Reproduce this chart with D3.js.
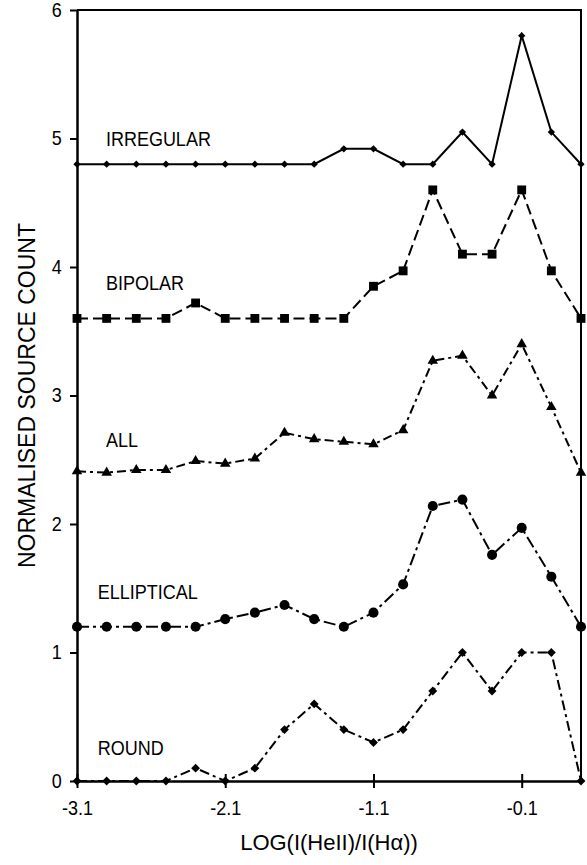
<!DOCTYPE html>
<html>
<head>
<meta charset="utf-8">
<script src="https://cdn.jsdelivr.net/npm/d3@7"></script>
<style>
  html, body { margin: 0; padding: 0; background: #fff; }
  svg text { font-family: Arial, "Liberation Sans", Helvetica, sans-serif; fill: #000; }
</style>
</head>
<body>
<div id="chart"></div>
<script>
// Bin centres on the x axis: LOG(I(HeII)/I(Ha))
const logRatio = [-3.1, -2.9, -2.7, -2.5, -2.3, -2.1, -1.9, -1.7, -1.5, -1.3, -1.1, -0.9, -0.7, -0.5, -0.3, -0.1, 0.1, 0.3];

// Normalised counts, each curve already offset vertically as in the figure
const irregular  = [4.8, 4.8, 4.8, 4.8, 4.8, 4.8, 4.8, 4.8, 4.8, 4.92, 4.92, 4.8, 4.8, 5.05, 4.8, 5.8, 5.05, 4.8];
const bipolar    = [3.6, 3.6, 3.6, 3.6, 3.72, 3.6, 3.6, 3.6, 3.6, 3.6, 3.85, 3.97, 4.6, 4.1, 4.1, 4.6, 3.97, 3.6];
const allPNe     = [2.41, 2.40, 2.42, 2.42, 2.49, 2.47, 2.51, 2.71, 2.66, 2.64, 2.62, 2.73, 3.27, 3.31, 3.0, 3.4, 2.91, 2.4];
const elliptical = [1.2, 1.2, 1.2, 1.2, 1.2, 1.26, 1.31, 1.37, 1.26, 1.2, 1.31, 1.53, 2.14, 2.19, 1.76, 1.97, 1.59, 1.2];
const round      = [0, 0, 0, 0, 0.1, 0, 0.1, 0.4, 0.6, 0.4, 0.3, 0.4, 0.7, 1.0, 0.7, 1.0, 1.0, 0];

const seriesNames = ["IRREGULAR", "BIPOLAR", "ALL", "ELLIPTICAL", "ROUND"];
// where each curve's name sits, in data units [x, y]
const labelAnchors = [[-2.905, 4.94], [-2.905, 3.82], [-2.905, 2.6], [-2.96, 1.42], [-2.96, 0.2]];

const xTicks = [-3.1, -2.1, -1.1, -0.1];
const yTicks = [0, 1, 2, 3, 4, 5, 6];

const width = 587, height = 865;
const margin = {top: 10, right: 6, bottom: 84, left: 77};
const w = width - margin.left - margin.right;
const h = height - margin.top - margin.bottom;

const svg = d3.select("#chart").append("svg")
    .attr("width", width)
    .attr("height", height);

const g = svg.append("g")
    .attr("transform", `translate(${margin.left},${margin.top})`);

const x = d3.scaleLinear().domain([-3.1, 0.3]).range([0, w]);
const y = d3.scaleLinear().domain([0, 6]).range([h, 0]);

// frame on top and right
g.append("path")
    .attr("d", `M0,0H${w}V${h}`)
    .attr("fill", "none")
    .attr("stroke", "#000")
    .attr("stroke-width", 2);

// series styles
const styles = [
    {data: irregular,  dash: null,         marker: d3.symbolDiamond2, size: 34},
    {data: bipolar,    dash: "11,5",       marker: d3.symbolSquare2,  size: 100},
    {data: allPNe,     dash: "9,4,3,4",    marker: d3.symbolTriangle, size: 48},
    {data: elliptical, dash: "12,4,3,4",   marker: d3.symbolCircle,   size: 80},
    {data: round,      dash: "10,4,3,4",   marker: d3.symbolDiamond2, size: 50}
];

const line = d3.line()
    .x((d, i) => x(logRatio[i]))
    .y(d => y(d));

styles.forEach((s, k) => {
    g.append("path")
        .datum(s.data)
        .attr("d", line)
        .attr("fill", "none")
        .attr("stroke", "#000")
        .attr("stroke-width", 2)
        .attr("stroke-dasharray", s.dash);

    const sym = d3.symbol().type(s.marker).size(s.size);
    g.selectAll(null)
        .data(s.data)
        .join("path")
        .attr("d", sym)
        .attr("transform", (d, i) => `translate(${x(logRatio[i])},${y(d)})`)
        .attr("fill", "#000");

    g.append("text")
        .attr("transform", `translate(${x(labelAnchors[k][0])},${y(labelAnchors[k][1])}) scale(0.9,1)`)
        .attr("font-size", 20)
        .text(seriesNames[k]);
});

// plain hyphen for negatives, like the original
const fmtX = d => d.toFixed(1);

// axes
const xAxis = g.append("g")
    .attr("transform", `translate(0,${h})`)
    .call(d3.axisBottom(x).tickValues(xTicks).tickFormat(fmtX).tickSizeOuter(0).tickPadding(14));
xAxis.select(".domain").attr("stroke-width", 2.5);
xAxis.selectAll(".tick line").attr("y1", -7).attr("y2", 7).attr("stroke-width", 2);
xAxis.selectAll(".tick text")
    .attr("font-size", 20)
    .attr("transform", "scale(0.9,1)");

const yAxis = g.append("g")
    .call(d3.axisLeft(y).tickValues(yTicks).tickFormat(d => String(d)).tickSizeInner(7).tickSizeOuter(0).tickPadding(10));
yAxis.select(".domain").attr("stroke-width", 2.5);
yAxis.selectAll(".tick line").attr("stroke-width", 2);
yAxis.selectAll(".tick text")
    .attr("font-size", 20)
    .attr("transform", "scale(0.9,1)");

// axis titles
svg.append("text")
    .attr("x", margin.left + w / 2)
    .attr("y", 850)
    .attr("text-anchor", "middle")
    .attr("font-size", 22)
    .text("LOG(I(HeII)/I(Hα))");

svg.append("text")
    .attr("transform", `translate(35,${margin.top + h / 2}) rotate(-90)`)
    .attr("text-anchor", "middle")
    .attr("font-size", 23)
    .text("NORMALISED SOURCE COUNT");
</script>
</body>
</html>
